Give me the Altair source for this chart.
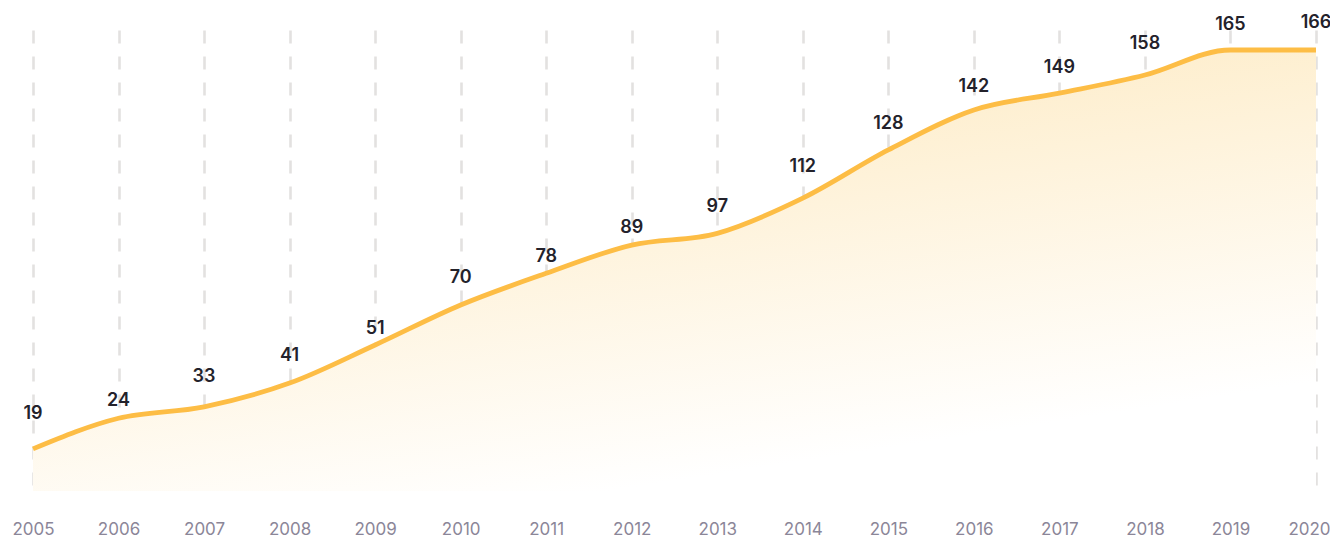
import altair as alt
import pandas as pd

years = [str(y) for y in range(2005, 2021)]
# numbers printed above the curve
labels_values = [19, 24, 33, 41, 51, 70, 78, 89, 97, 112, 128, 142, 149, 158, 165, 166]
# height of the smoothed curve at each year
curve_values = [15.8, 27.3, 31.6, 40.5, 54.8, 69.8, 81.7, 92.3, 96.7, 109.9, 128, 143, 149.3, 156.1, 165.5, 165.5]

df = pd.DataFrame({"year": years, "label": labels_values, "curve": curve_values})

FONT = "Inter"

x = alt.X(
    "year:O",
    scale=alt.Scale(type="point", padding=0),
    axis=alt.Axis(
        title=None, labelAngle=0, domain=False, ticks=False,
        grid=True, gridDash=[13, 13], gridColor="#e3e1e0", gridWidth=2.6,
        labelColor="#8b8698", labelFontSize=17, labelPadding=30,
        labelFont=FONT, labelFontWeight=400,
        labelOffset=alt.condition("datum.value == '2020'", alt.value(-7), alt.value(0)),
    ),
)
yscale = alt.Scale(domain=[0, 173], nice=False)

area = alt.Chart(df).mark_area(
    interpolate="monotone",
    fill=alt.Gradient(
        gradient="linear",
        stops=[
            alt.GradientStop(color="#FDE6B6", offset=0),
            alt.GradientStop(color="#FFFFFF", offset=1),
        ],
        x1=0, y1=0, x2=0.45, y2=1,
    ),
).encode(x=x, y=alt.Y("curve:Q", scale=yscale, axis=None))

line = alt.Chart(df).mark_line(
    interpolate="monotone", color="#FDBD45", strokeWidth=4.8
).encode(x=x, y=alt.Y("curve:Q", scale=yscale, axis=None))

labels = alt.Chart(df).mark_text(
    dy=-26, baseline="middle", font=FONT, fontSize=18, fontWeight=600, color="#23222b"
).encode(x=x, y=alt.Y("label:Q", scale=yscale, axis=None), text="label:Q")

chart = (
    alt.layer(area, line, labels)
    .properties(
        width=1283, height=461,
        autosize=alt.AutoSizeParams(type="none"),
        padding={"left": 25, "top": 22, "right": 14, "bottom": 47},
    )
    .configure_view(stroke=None)
)

chart.save("out.html", embed_options={"renderer": "svg", "actions": False})
